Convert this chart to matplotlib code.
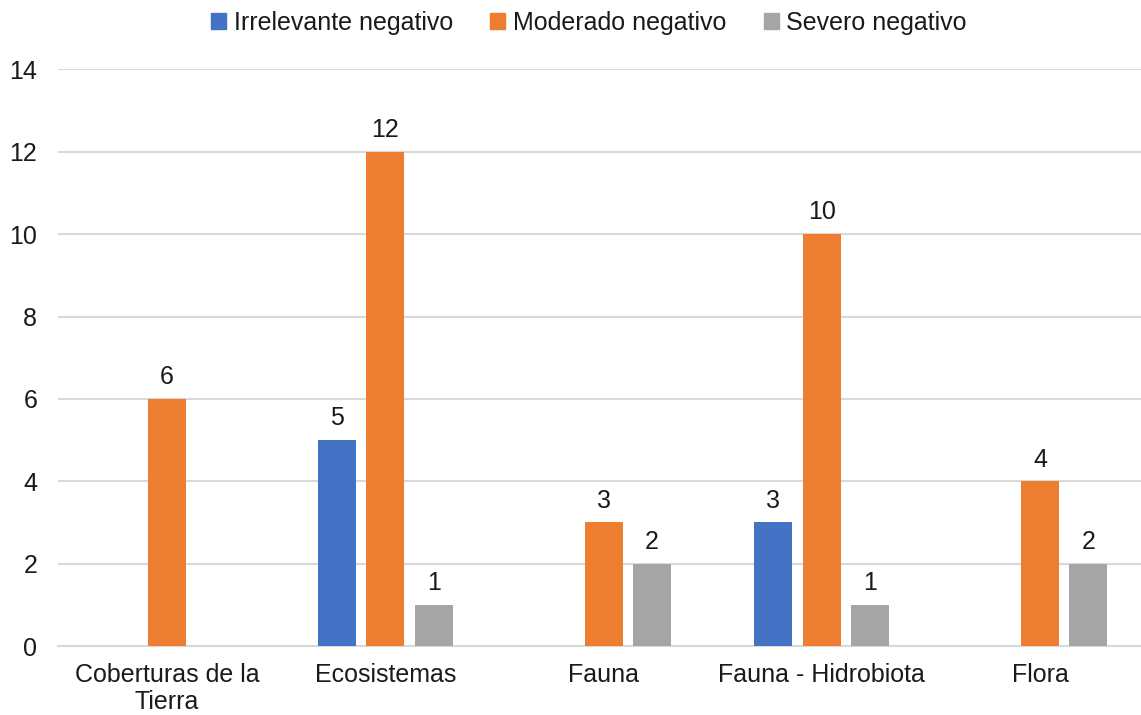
import matplotlib as mpl

mpl.use("Agg")

import matplotlib.pyplot as plt
import numpy as np
from matplotlib.patches import Patch

categories = ["Coberturas de la\nTierra", "Ecosistemas", "Fauna", "Fauna - Hidrobiota", "Flora"]
series_names = ["Irrelevante negativo", "Moderado negativo", "Severo negativo"]
irrelevante = [0, 5, 0, 3, 0]
moderado = [6, 12, 3, 10, 4]
severo = [0, 1, 2, 1, 2]

colors = ["#4472C4", "#ED7D31", "#A5A5A5"]

plt.rcParams["font.family"] = ["Liberation Sans", "DejaVu Sans"]
fs = 18

fig = plt.figure(figsize=(11.41, 7.15), dpi=100)
ax = fig.add_axes([58 / 1141, 69 / 715, 1 - 58 / 1141, (645.5 - 69) / 715])

x = np.arange(len(categories))
width = 0.174
step = 0.222
for i, (vals, color) in enumerate(zip([irrelevante, moderado, severo], colors)):
    pos = x + (i - 1) * step
    vals = np.array(vals)
    mask = vals > 0
    bars = ax.bar(pos[mask], vals[mask], width=width, color=color, zorder=3)
    for b, v in zip(bars, vals[mask]):
        ax.annotate(str(v), (b.get_x() + b.get_width() / 2, v), xytext=(0, 7),
                    textcoords="offset points", ha="center", va="bottom",
                    fontsize=fs, color="#1a1a1a")

ax.set_xlim(-0.5, 4.463)
ax.set_ylim(0, 14)
ax.set_yticks(range(0, 15, 2))
ax.set_xticks(x)
ax.set_xticklabels(categories, fontsize=fs, color="#1a1a1a", linespacing=1.2)
ax.tick_params(axis="y", labelsize=fs, labelcolor="#1a1a1a", length=0, pad=15)
ax.tick_params(axis="x", length=0, pad=12)
ax.grid(axis="y", color="#D9D9D9", lw=1.5, zorder=0)
for s in ["top", "right", "left"]:
    ax.spines[s].set_visible(False)
ax.spines["bottom"].set_color("#D9D9D9")
ax.spines["bottom"].set_linewidth(1.5)

handles = [Patch(color=c) for c in colors]
fig.legend(handles, series_names, loc="center", bbox_to_anchor=(589 / 1141, 1 - 23 / 715),
           ncol=3, frameon=False, fontsize=fs, handlelength=0.6, handleheight=0.6,
           handletextpad=0.3, columnspacing=1.5, labelcolor="#1a1a1a")

fig.savefig("out.png", dpi=100)
